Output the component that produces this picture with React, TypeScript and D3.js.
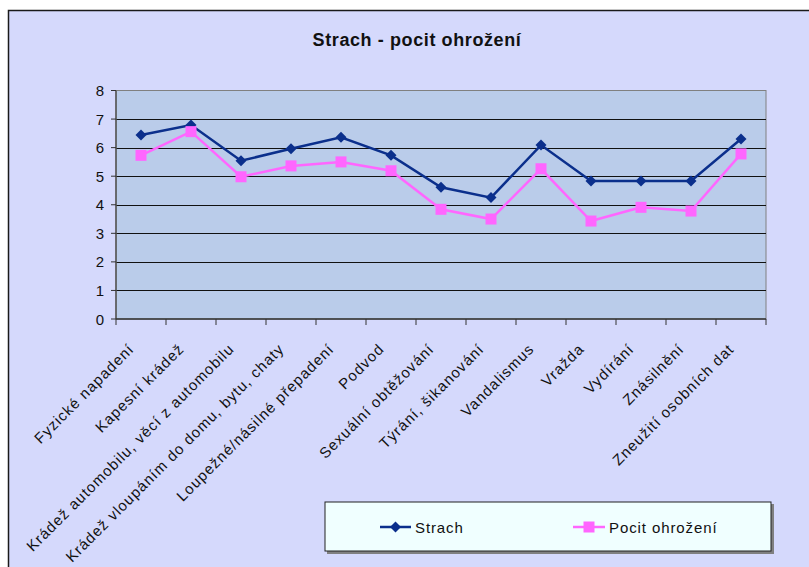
import React from "react";
import * as d3 from "d3";

const categories = [
  "Fyzické napadení",
  "Kapesní krádež",
  "Krádež automobilu, věcí z automobilu",
  "Krádež vloupáním do domu, bytu, chaty",
  "Loupežné/násilné přepadení",
  "Podvod",
  "Sexuální obtěžování",
  "Týrání, šikanování",
  "Vandalismus",
  "Vražda",
  "Vydírání",
  "Znásilnění",
  "Zneužití osobních dat",
];
const strach = [6.44, 6.79, 5.54, 5.96, 6.36, 5.73, 4.61, 4.25, 6.09, 4.83, 4.83, 4.83, 6.3];
const pocit = [5.73, 6.56, 4.98, 5.36, 5.5, 5.19, 3.84, 3.5, 5.26, 3.43, 3.91, 3.78, 5.78];
const yTicks = [0, 1, 2, 3, 4, 5, 6, 7, 8];
const seriesNames = ["Strach", "Pocit ohrožení"];

const W = 809;
const H = 567;
const plot = { left: 116, right: 766, top: 90.5, bottom: 319 };
const navy = "#0B2F8C";
const pink = "#FF66FF";
const font = "'Liberation Sans', Arial, sans-serif";

export default function App() {
  const x = d3
    .scaleBand<string>()
    .domain(categories)
    .range([plot.left, plot.right])
    .paddingInner(0)
    .paddingOuter(0);
  const y = d3.scaleLinear().domain([0, 8]).range([plot.bottom, plot.top]);
  const cx = (c: string) => (x(c) as number) + x.bandwidth() / 2;
  const line = d3
    .line<number>()
    .x((_, i) => cx(categories[i]))
    .y((d) => y(d));

  const diamond = (px: number, py: number, r: number) =>
    `M${px},${py - r}L${px + r},${py}L${px},${py + r}L${px - r},${py}Z`;

  const tickXs = d3.range(categories.length + 1).map((i) => plot.left + i * x.bandwidth());

  return (
    <svg
      width={W}
      height={H}
      style={{ position: "absolute", left: 0, top: 0 }}
      fontFamily={font}
    >
      <rect x={0} y={0} width={W} height={H} fill="#ffffff" />
      <rect x={8.5} y={10.5} width={W} height={H} fill="#D5D9FC" stroke="#1a1a1a" strokeWidth={1.5} />
      <text
        x={417}
        y={46}
        textAnchor="middle"
        fontSize={18}
        fontWeight="bold"
        letterSpacing={0.6}
        fill="#111"
      >
        Strach - pocit ohrožení
      </text>

      <rect
        x={plot.left}
        y={plot.top}
        width={plot.right - plot.left}
        height={plot.bottom - plot.top}
        fill="#BACCEA"
        stroke="#808080"
        strokeWidth={1}
      />
      {yTicks
        .filter((t) => t > 0 && t < 8)
        .map((t) => (
          <line
            key={t}
            x1={plot.left}
            x2={plot.right}
            y1={Math.round(y(t)) + 0.5}
            y2={Math.round(y(t)) + 0.5}
            stroke="#111"
            strokeWidth={1}
          />
        ))}
      {/* y axis */}
      <line x1={plot.left} x2={plot.left} y1={plot.top} y2={plot.bottom} stroke="#555" strokeWidth={1.5} />
      {yTicks.map((t) => (
        <g key={t}>
          <line x1={plot.left - 5} x2={plot.left} y1={y(t)} y2={y(t)} stroke="#333" />
          <text x={104} y={y(t) + 5.5} textAnchor="end" fontSize={15} fill="#111">
            {t}
          </text>
        </g>
      ))}
      {/* x axis */}
      <line x1={plot.left} x2={plot.right} y1={plot.bottom} y2={plot.bottom} stroke="#333" strokeWidth={1.5} />
      {tickXs.map((tx, i) => (
        <line key={i} x1={tx} x2={tx} y1={plot.bottom} y2={plot.bottom + 6} stroke="#333" />
      ))}
      {categories.map((c) => (
        <text
          key={c}
          transform={`translate(${cx(c) - 6},${plot.bottom + 31}) rotate(-45)`}
          textAnchor="end"
          fontSize={15}
          letterSpacing={1}
          fill="#111"
        >
          {c}
        </text>
      ))}

      {/* series */}
      <path d={line(strach) || ""} fill="none" stroke={navy} strokeWidth={2.5} />
      {strach.map((v, i) => (
        <path key={i} d={diamond(cx(categories[i]), y(v), 5.5)} fill={navy} />
      ))}
      <path d={line(pocit) || ""} fill="none" stroke={pink} strokeWidth={2.5} />
      {pocit.map((v, i) => (
        <rect key={i} x={cx(categories[i]) - 5.5} y={y(v) - 5.5} width={11} height={11} fill={pink} />
      ))}

      {/* legend */}
      <rect x={327} y={504} width={447} height={50} fill="#808080" />
      <rect x={325} y={502} width={446} height={49} fill="#F0FFFF" stroke="#222" strokeWidth={1} />
      <line x1={380} x2={411} y1={527} y2={527} stroke={navy} strokeWidth={2.5} />
      <path d={diamond(395.5, 527, 5.5)} fill={navy} />
      <text x={415} y={532.5} fontSize={15} letterSpacing={0.9} fill="#111">
        {seriesNames[0]}
      </text>
      <line x1={573} x2={605} y1={527} y2={527} stroke={pink} strokeWidth={2.5} />
      <rect x={583.5} y={521.5} width={11} height={11} fill={pink} />
      <text x={609} y={532.5} fontSize={15} letterSpacing={0.9} fill="#111">
        {seriesNames[1]}
      </text>
    </svg>
  );
}
